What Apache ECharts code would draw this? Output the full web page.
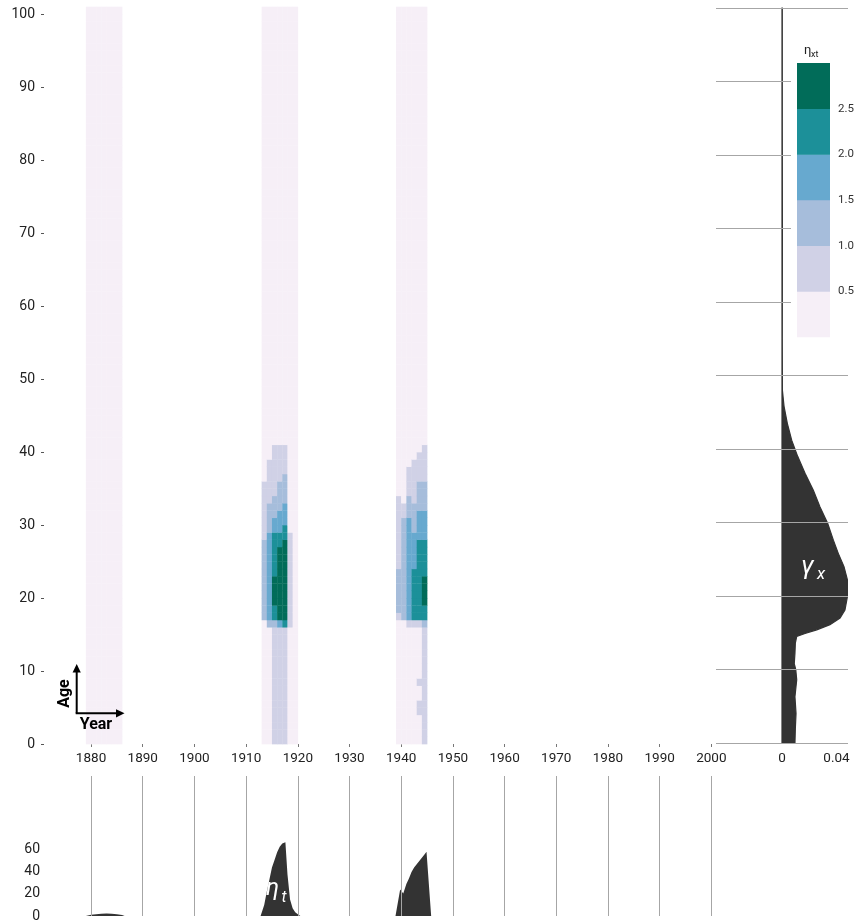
<!DOCTYPE html>
<html><head><meta charset="utf-8">
<script src="https://cdn.jsdelivr.net/npm/echarts@6/dist/echarts.min.js"></script>
<style>html,body{margin:0;padding:0;background:#fff}#c{width:856px;height:923px}</style>
</head><body><div id="c"></div><script>
// ---------- data ----------
const yearTicks = [1880,1890,1900,1910,1920,1930,1940,1950,1960,1970,1980,1990,2000];
const ageTicks = [0,10,20,30,40,50,60,70,80,90,100];
const etaTTicks = [0,20,40,60];
const gammaTicks = [0,0.04];
const legendEdges = [0,0.5,1.0,1.5,2.0,2.5,3.0];
const legendTicks = [0.5,1.0,1.5,2.0,2.5];
const binColors = ['#f6eff7','#d0d1e6','#a6bddb','#67a9cf','#1c9099','#016c59'];

// years that carry an age-period effect (every age 0..100 gets a cell)
const bandYears = [1879,1880,1881,1882,1883,1884,1885,1913,1914,1915,1916,1917,1918,1919,1939,1940,1941,1942,1943,1944];
const maxAge = 100;
const etaBase = 0.25; // background value in these years (< 0.5)
// runs: [fromAge, toAge, value]
const etaRuns = {
  1913: [[17,27,1.25],[28,35,0.75]],
  1914: [[16,16,1.25],[17,28,1.75],[29,32,1.25],[33,38,0.75]],
  1915: [[0,15,0.75],[16,16,1.25],[17,18,2.25],[19,22,2.75],[23,28,2.25],[29,30,1.75],[31,33,1.25],[34,40,0.75]],
  1916: [[0,15,0.75],[16,16,1.75],[17,26,2.75],[27,28,2.25],[29,31,1.75],[32,35,1.25],[36,40,0.75]],
  1917: [[0,15,0.75],[16,16,2.25],[17,27,2.75],[28,29,2.25],[30,32,1.75],[33,36,1.25],[37,40,0.75]],
  1918: [[16,28,0.75]],
  1939: [[17,17,0.75],[18,23,1.25],[24,33,0.75]],
  1940: [[17,30,1.25],[31,32,0.75]],
  1941: [[16,16,0.75],[17,30,1.75],[31,33,1.25],[34,37,0.75]],
  1942: [[16,16,0.75],[17,23,2.25],[24,28,1.75],[29,32,1.25],[33,38,0.75]],
  1943: [[4,5,0.75],[8,8,0.75],[16,16,0.75],[17,27,2.25],[28,31,1.75],[32,35,1.25],[36,39,0.75]],
  1944: [[0,15,0.75],[16,16,1.25],[17,18,2.25],[19,22,2.75],[23,27,2.25],[28,31,1.75],[32,35,1.25],[36,40,0.75]]
};

// eta_t (period effect), [year, value]
const etaT1880 = [[1879,0],[1880,1.2],[1881,1.6],[1882,2.0],[1883,2.2],[1884,2.0],[1885,1.6],[1886,0.8],[1886.5,0]];
const etaT1914 = [[1912.8,0],[1913.5,10],[1914,22],[1914.5,33],[1915,44],[1915.5,51],[1916,58],[1916.5,63],[1917,66],[1917.6,67],[1918,38],[1918.5,15],[1919,7],[1919.5,3.5],[1920,1.5],[1920.5,0]];
const etaT1940 = [[1938.9,0],[1939.8,24],[1940.4,20.5],[1941,29],[1941.5,34],[1942,40],[1942.5,44],[1943,47],[1943.5,50],[1944,53],[1944.5,56],[1944.9,58.5],[1945.8,0]];

// gamma_x (age profile)
const gammaAges   = [0,2,4,6.3,8.6,10,10.8,12.2,13.6,14.5,14.9,15.4,16.1,17,18.1,19.9,22.2,24,25.8,27.6,29.9,32.1,34.4,36.7,39,41.2,43.5,45.8,48,55,70,85,100];
const gammaValues = [0.0095,0.0098,0.0103,0.0095,0.0108,0.0101,0.009,0.0095,0.0098,0.0108,0.0169,0.0255,0.0352,0.0426,0.0462,0.048,0.048,0.0455,0.0413,0.0377,0.0335,0.0279,0.023,0.0169,0.0115,0.0071,0.0039,0.0015,0.0003,0.0002,0.0003,0.0002,0.0002];

// ---------- build ----------
function binColor(v){
  for (let i = 1; i < legendEdges.length - 1; i++) if (v < legendEdges[i]) return binColors[i-1];
  return binColors[binColors.length-1];
}
const cells = [];
bandYears.forEach(y => {
  const runs = etaRuns[y] || [];
  for (let a = 0; a <= maxAge; a++) {
    let v = etaBase;
    runs.forEach(r => { if (a >= r[0] && a <= r[1]) v = r[2]; });
    cells.push([y, a, v]);
  }
});
const gammaData = gammaValues.map((v,i) => [v, gammaAges[i]]);
const legendData = [];
for (let i = 0; i < legendEdges.length - 1; i++) legendData.push([legendEdges[i], legendEdges[i+1], i]);

const FONT = 'Roboto';
const TXT = '#222';
const GRIDC = '#a6a6a6';
const chart = echarts.init(document.getElementById('c'), null, {renderer:'canvas'});
const hidden = {axisLine:{show:false}, axisTick:{show:false}, axisLabel:{show:false}, splitLine:{show:false}};
const plain = v => String(v);

chart.setOption({
  animation: false,
  backgroundColor: '#fff',
  textStyle: {fontFamily: FONT},
  grid: [
    {left:44, top:6.7, width:672.5, height:737.3, outerBoundsMode:'none', containLabel:false},
    {left:44, top:776, width:672.5, height:140, outerBoundsMode:'none', containLabel:false},
    {left:716, top:8, width:132, height:735, outerBoundsMode:'none', containLabel:false},
    {left:797, top:63, width:33, height:274, outerBoundsMode:'none', containLabel:false}
  ],
  xAxis: [
    {gridIndex:0, type:'value', min:1870.9, max:2001,
      axisLine:{show:false}, splitLine:{show:false},
      axisTick:{show:true, length:3, customValues:yearTicks, lineStyle:{color:'#777'}},
      axisLabel:{show:true, customValues:yearTicks, margin:8, fontSize:13.5, color:TXT, fontFamily:FONT, formatter:plain}},
    Object.assign({gridIndex:1, type:'value', min:1870.9, max:2001}, hidden),
    {gridIndex:2, type:'value', min:-0.04844, max:0.04844,
      axisLine:{show:false}, splitLine:{show:false}, axisTick:{show:false},
      axisLabel:{show:true, customValues:gammaTicks, margin:9, fontSize:13.5, color:TXT, fontFamily:FONT,
        formatter: v => (v === 0 ? '0' : String(v))}},
    Object.assign({gridIndex:3, type:'value', min:0, max:1}, hidden)
  ],
  yAxis: [
    {gridIndex:0, type:'value', min:0, max:101,
      axisLine:{show:false}, splitLine:{show:false},
      axisTick:{show:true, length:3, customValues:ageTicks, lineStyle:{color:'#555'}},
      axisLabel:{show:true, customValues:ageTicks, margin:9, fontSize:14, color:TXT, fontFamily:FONT, formatter:plain}},
    {gridIndex:1, type:'value', min:0, max:127.27,
      axisLine:{show:false}, splitLine:{show:false}, axisTick:{show:false},
      axisLabel:{show:true, customValues:etaTTicks, margin:4, fontSize:14, color:TXT, fontFamily:FONT, formatter:plain}},
    {gridIndex:2, type:'value', min:0, max:100, interval:10, z:3,
      axisLine:{show:false}, axisTick:{show:false}, axisLabel:{show:false},
      splitLine:{show:true, lineStyle:{color:GRIDC, width:1}}},
    {gridIndex:3, type:'value', min:0, max:3, position:'right',
      axisLine:{show:false}, splitLine:{show:false}, axisTick:{show:false},
      axisLabel:{show:true, customValues:legendTicks, margin:8, fontSize:11.5, color:'#333', fontFamily:FONT,
        formatter: v => v.toFixed(1)}, z:6}
  ],
  series: [
    {type:'custom', name:'eta_xt', xAxisIndex:0, yAxisIndex:0, data:cells, encode:{x:0, y:1}, z:2, silent:true,
      renderItem: function(params, api){
        const y = api.value(0), a = api.value(1), v = api.value(2);
        const p0 = api.coord([y, a + 1]);
        const p1 = api.coord([y + 1, a]);
        return {type:'rect', shape:{x:p0[0], y:p0[1], width:p1[0]-p0[0]+0.35, height:p1[1]-p0[1]+0.35},
          style:{fill: binColor(v)}};
      }},
    {type:'line', name:'eta_t 1880', xAxisIndex:1, yAxisIndex:1, data:etaT1880, symbol:'none', smooth:false,
      lineStyle:{width:0, opacity:0}, areaStyle:{color:'#333333', opacity:1}, z:2, silent:true,
      markLine:{silent:true, symbol:['none','none'], label:{show:false}, animation:false,
        lineStyle:{color:GRIDC, width:1, type:'solid'},
        data: yearTicks.map(t => ({xAxis:t}))}},
    {type:'line', name:'eta_t 1914', xAxisIndex:1, yAxisIndex:1, data:etaT1914, symbol:'none', smooth:false,
      lineStyle:{width:0, opacity:0}, areaStyle:{color:'#333333', opacity:1}, z:2, silent:true},
    {type:'line', name:'eta_t 1940', xAxisIndex:1, yAxisIndex:1, data:etaT1940, symbol:'none', smooth:false,
      lineStyle:{width:0, opacity:0}, areaStyle:{color:'#333333', opacity:1}, z:2, silent:true},
    {type:'custom', name:'gamma_x', xAxisIndex:2, yAxisIndex:2, data:gammaData, encode:{x:0, y:1}, z:2, silent:true,
      renderItem: function(params, api){
        if (params.dataIndex !== 0) return null;
        const pts = gammaData.map(d => api.coord(d));
        pts.push(api.coord([0, gammaAges[gammaAges.length-1]]));
        pts.push(api.coord([0, gammaAges[0]]));
        return {type:'polygon', shape:{points:pts}, style:{fill:'#333333', stroke:'#333333', lineWidth:1.2}};
      }},
    {type:'custom', name:'legend', xAxisIndex:3, yAxisIndex:3, data:legendData, encode:{y:[0,1]}, z:6, silent:true,
      renderItem: function(params, api){
        const lo = api.value(0), hi = api.value(1), idx = api.value(2);
        const p0 = api.coord([0, hi]);
        const p1 = api.coord([1, lo]);
        return {type:'rect', shape:{x:p0[0], y:p0[1], width:p1[0]-p0[0], height:p1[1]-p0[1]+0.3},
          style:{fill: binColors[idx]}};
      }}
  ],
  graphic: [
    {type:'rect', z:4, silent:true, shape:{x:791, y:22, width:65, height:323}, style:{fill:'#ffffff'}},
    {type:'text', z:10, x:804, y:51, style:{text:'η', font:'13px Roboto', fill:'#222', verticalAlign:'middle'}},
    {type:'text', z:10, x:811, y:55, style:{text:'xt', font:'9px Roboto', fill:'#222', verticalAlign:'middle'}},
    {type:'text', z:10, x:801, y:567, style:{text:'γ', font:'italic 26px Roboto', fill:'#ffffff', verticalAlign:'middle'}},
    {type:'text', z:10, x:817, y:575, style:{text:'x', font:'italic 17px Roboto', fill:'#ffffff', verticalAlign:'middle'}},
    {type:'text', z:10, x:266, y:889, style:{text:'η', font:'italic 24px Roboto', fill:'#ffffff', verticalAlign:'middle'}},
    {type:'text', z:10, x:281.5, y:898, style:{text:'t', font:'italic 16px Roboto', fill:'#ffffff', verticalAlign:'middle'}},
    {type:'line', z:10, shape:{x1:76.7, y1:713.3, x2:76.7, y2:670}, style:{stroke:'#000', lineWidth:2}},
    {type:'polygon', z:10, shape:{points:[[76.7,664],[72.6,672.5],[80.8,672.5]]}, style:{fill:'#000'}},
    {type:'line', z:10, shape:{x1:75.7, y1:713.3, x2:118, y2:713.3}, style:{stroke:'#000', lineWidth:2}},
    {type:'polygon', z:10, shape:{points:[[124.5,713.3],[116,709.2],[116,717.4]]}, style:{fill:'#000'}},
    {type:'text', z:10, x:65, y:693.5, rotation:Math.PI/2, style:{text:'Age', font:'bold 16px Roboto', fill:'#000', align:'center', verticalAlign:'middle'}},
    {type:'text', z:10, x:96, y:724.5, style:{text:'Year', font:'bold 16px Roboto', fill:'#000', align:'center', verticalAlign:'middle'}}
  ]
});
</script></body></html>
